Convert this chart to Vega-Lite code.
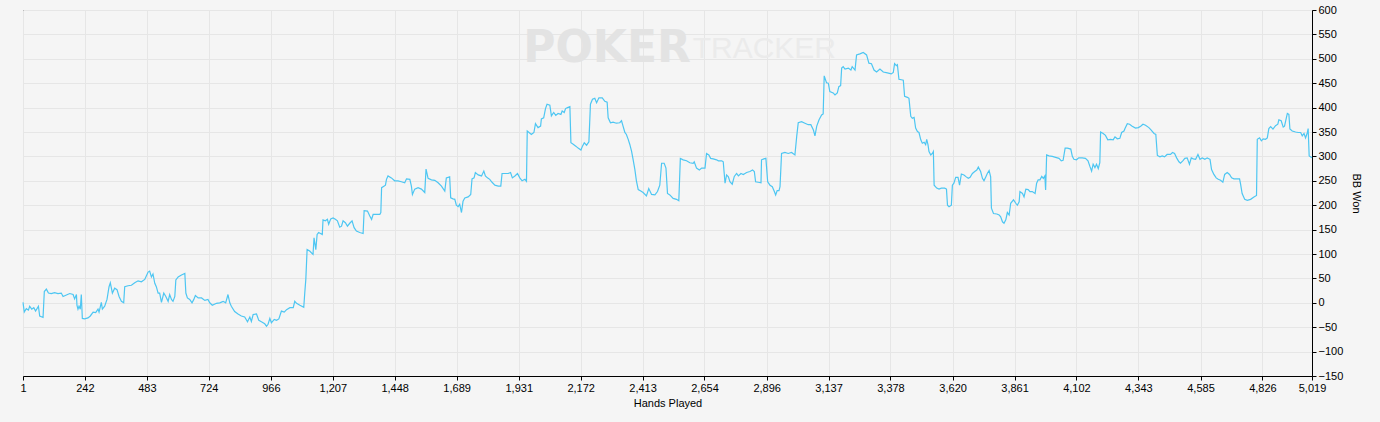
{
  "$schema": "https://vega.github.io/schema/vega-lite/v6.json",
  "width": 1289,
  "height": 366,
  "autosize": {"type": "none"},
  "padding": {"left": 23, "top": 10, "right": 68, "bottom": 46},
  "background": "#f5f5f5",
  "config": {
    "view": {"stroke": "#000000", "strokeWidth": 1, "fill": "#f5f5f5"},
    "font": "Liberation Sans"
  },
  "datasets": {
    "wm": [
      {"label": "POKER", "hand": 2601, "bb": 520},
      {"label": "TRACKER", "hand": 2608, "bb": 520}
    ],
    "series": [
      {"hand":1,"bb":1},{"hand":6,"bb":-19},{"hand":14,"bb":-12},{"hand":22,"bb":-15},{"hand":27,"bb":-7},{"hand":35,"bb":-13},{"hand":43,"bb":-10},{"hand":50,"bb":-17},{"hand":61,"bb":-7},{"hand":66,"bb":-27},{"hand":79,"bb":-30},{"hand":84,"bb":23},{"hand":92,"bb":28},{"hand":100,"bb":20},{"hand":111,"bb":19},{"hand":124,"bb":21},{"hand":137,"bb":19},{"hand":150,"bb":20},{"hand":157,"bb":13},{"hand":170,"bb":16},{"hand":183,"bb":19},{"hand":196,"bb":17},{"hand":202,"bb":8},{"hand":209,"bb":17},{"hand":211,"bb":-5},{"hand":215,"bb":-13},{"hand":219,"bb":-7},{"hand":224,"bb":-13},{"hand":228,"bb":17},{"hand":232,"bb":-32},{"hand":241,"bb":-33},{"hand":254,"bb":-31},{"hand":263,"bb":-27},{"hand":274,"bb":-19},{"hand":284,"bb":-20},{"hand":293,"bb":-13},{"hand":297,"bb":-19},{"hand":306,"bb":1},{"hand":310,"bb":-13},{"hand":319,"bb":-7},{"hand":328,"bb":7},{"hand":336,"bb":33},{"hand":341,"bb":41},{"hand":349,"bb":20},{"hand":358,"bb":30},{"hand":367,"bb":27},{"hand":375,"bb":13},{"hand":384,"bb":3},{"hand":393,"bb":0},{"hand":397,"bb":33},{"hand":410,"bb":35},{"hand":423,"bb":36},{"hand":436,"bb":41},{"hand":449,"bb":45},{"hand":462,"bb":43},{"hand":475,"bb":48},{"hand":481,"bb":55},{"hand":488,"bb":63},{"hand":494,"bb":65},{"hand":501,"bb":53},{"hand":507,"bb":59},{"hand":514,"bb":40},{"hand":520,"bb":33},{"hand":527,"bb":20},{"hand":533,"bb":20},{"hand":540,"bb":1},{"hand":549,"bb":20},{"hand":557,"bb":13},{"hand":566,"bb":3},{"hand":572,"bb":17},{"hand":579,"bb":7},{"hand":585,"bb":3},{"hand":592,"bb":13},{"hand":596,"bb":47},{"hand":605,"bb":53},{"hand":618,"bb":57},{"hand":631,"bb":60},{"hand":635,"bb":20},{"hand":641,"bb":10},{"hand":650,"bb":7},{"hand":659,"bb":0},{"hand":666,"bb":7},{"hand":672,"bb":15},{"hand":683,"bb":10},{"hand":696,"bb":10},{"hand":709,"bb":5},{"hand":721,"bb":7},{"hand":728,"bb":0},{"hand":738,"bb":-5},{"hand":754,"bb":-1},{"hand":767,"bb":0},{"hand":780,"bb":3},{"hand":790,"bb":0},{"hand":799,"bb":17},{"hand":806,"bb":0},{"hand":812,"bb":-7},
      {"hand":825,"bb":-18},{"hand":838,"bb":-23},{"hand":851,"bb":-27},{"hand":864,"bb":-29},{"hand":875,"bb":-39},{"hand":884,"bb":-29},{"hand":890,"bb":-38},{"hand":897,"bb":-24},{"hand":910,"bb":-23},{"hand":919,"bb":-36},{"hand":929,"bb":-39},{"hand":942,"bb":-43},{"hand":949,"bb":-48},{"hand":955,"bb":-44},{"hand":962,"bb":-32},{"hand":968,"bb":-41},{"hand":979,"bb":-34},{"hand":988,"bb":-36},{"hand":997,"bb":-33},{"hand":1007,"bb":-17},{"hand":1018,"bb":-19},{"hand":1027,"bb":-14},{"hand":1040,"bb":-10},{"hand":1053,"bb":-10},{"hand":1059,"bb":3},{"hand":1066,"bb":-1},{"hand":1079,"bb":-5},{"hand":1094,"bb":-9},{"hand":1098,"bb":21},{"hand":1102,"bb":48},{"hand":1107,"bb":109},{"hand":1117,"bb":106},{"hand":1130,"bb":99},{"hand":1134,"bb":133},{"hand":1141,"bb":109},{"hand":1146,"bb":140},{"hand":1152,"bb":144},{"hand":1166,"bb":140},{"hand":1169,"bb":170},{"hand":1178,"bb":168},{"hand":1186,"bb":171},{"hand":1191,"bb":161},{"hand":1199,"bb":172},{"hand":1208,"bb":174},{"hand":1217,"bb":171},{"hand":1225,"bb":168},{"hand":1234,"bb":155},{"hand":1241,"bb":157},{"hand":1247,"bb":168},{"hand":1256,"bb":164},{"hand":1264,"bb":157},{"hand":1273,"bb":163},{"hand":1282,"bb":168},{"hand":1290,"bb":154},{"hand":1299,"bb":147},{"hand":1312,"bb":144},{"hand":1325,"bb":142},{"hand":1329,"bb":189},{"hand":1342,"bb":188},{"hand":1351,"bb":178},{"hand":1358,"bb":171},{"hand":1364,"bb":181},{"hand":1377,"bb":181},{"hand":1390,"bb":181},{"hand":1394,"bb":185},{"hand":1397,"bb":236},{"hand":1406,"bb":239},{"hand":1412,"bb":241},{"hand":1416,"bb":253},{"hand":1422,"bb":260},{"hand":1435,"bb":256},{"hand":1448,"bb":250},{"hand":1461,"bb":250},{"hand":1474,"bb":248},{"hand":1487,"bb":246},{"hand":1494,"bb":254},{"hand":1507,"bb":253},{"hand":1513,"bb":239},{"hand":1517,"bb":222},{"hand":1526,"bb":233},{"hand":1539,"bb":236},{"hand":1552,"bb":233},{"hand":1565,"bb":226},{"hand":1570,"bb":274},{"hand":1578,"bb":255},{"hand":1591,"bb":252},{"hand":1604,"bb":251},{"hand":1617,"bb":246},{"hand":1630,"bb":239},
      {"hand":1643,"bb":229},{"hand":1649,"bb":256},{"hand":1662,"bb":258},{"hand":1666,"bb":215},{"hand":1675,"bb":213},{"hand":1682,"bb":212},{"hand":1688,"bb":200},{"hand":1695,"bb":197},{"hand":1701,"bb":202},{"hand":1708,"bb":185},{"hand":1714,"bb":208},{"hand":1721,"bb":215},{"hand":1734,"bb":217},{"hand":1744,"bb":222},{"hand":1749,"bb":254},{"hand":1757,"bb":256},{"hand":1762,"bb":267},{"hand":1773,"bb":262},{"hand":1786,"bb":260},{"hand":1795,"bb":270},{"hand":1801,"bb":260},{"hand":1809,"bb":256},{"hand":1818,"bb":253},{"hand":1827,"bb":247},{"hand":1838,"bb":241},{"hand":1851,"bb":239},{"hand":1861,"bb":239},{"hand":1866,"bb":265},{"hand":1877,"bb":265},{"hand":1890,"bb":265},{"hand":1899,"bb":267},{"hand":1906,"bb":256},{"hand":1916,"bb":260},{"hand":1926,"bb":265},{"hand":1935,"bb":256},{"hand":1944,"bb":250},{"hand":1955,"bb":253},{"hand":1961,"bb":249},{"hand":1964,"bb":352},{"hand":1971,"bb":349},{"hand":1980,"bb":345},{"hand":1990,"bb":349},{"hand":1996,"bb":367},{"hand":2006,"bb":359},{"hand":2016,"bb":362},{"hand":2019,"bb":377},{"hand":2028,"bb":379},{"hand":2035,"bb":398},{"hand":2041,"bb":407},{"hand":2052,"bb":405},{"hand":2058,"bb":383},{"hand":2067,"bb":390},{"hand":2075,"bb":384},{"hand":2084,"bb":388},{"hand":2095,"bb":386},{"hand":2100,"bb":393},{"hand":2108,"bb":390},{"hand":2113,"bb":398},{"hand":2121,"bb":400},{"hand":2130,"bb":402},{"hand":2134,"bb":328},{"hand":2143,"bb":325},{"hand":2153,"bb":321},{"hand":2162,"bb":317},{"hand":2173,"bb":313},{"hand":2179,"bb":321},{"hand":2186,"bb":328},{"hand":2195,"bb":323},{"hand":2204,"bb":330},{"hand":2210,"bb":407},{"hand":2218,"bb":417},{"hand":2227,"bb":419},{"hand":2234,"bb":410},{"hand":2243,"bb":420},{"hand":2256,"bb":420},{"hand":2266,"bb":413},{"hand":2275,"bb":411},{"hand":2279,"bb":379},{"hand":2288,"bb":369},{"hand":2298,"bb":370},{"hand":2311,"bb":368},{"hand":2324,"bb":369},{"hand":2331,"bb":373},{"hand":2337,"bb":362},{"hand":2344,"bb":349},{"hand":2350,"bb":345},{"hand":2357,"bb":335},{"hand":2363,"bb":325},{"hand":2370,"bb":311},{"hand":2376,"bb":294},{"hand":2383,"bb":273},{"hand":2389,"bb":250},{"hand":2396,"bb":232},{"hand":2406,"bb":229},{"hand":2415,"bb":226},{"hand":2428,"bb":219},{"hand":2437,"bb":234},{"hand":2448,"bb":222},
      {"hand":2461,"bb":221},{"hand":2471,"bb":228},{"hand":2480,"bb":241},{"hand":2487,"bb":286},{"hand":2497,"bb":286},{"hand":2504,"bb":276},{"hand":2510,"bb":224},{"hand":2519,"bb":221},{"hand":2532,"bb":214},{"hand":2545,"bb":212},{"hand":2554,"bb":209},{"hand":2560,"bb":296},{"hand":2571,"bb":293},{"hand":2584,"bb":291},{"hand":2597,"bb":287},{"hand":2610,"bb":286},{"hand":2614,"bb":289},{"hand":2623,"bb":276},{"hand":2634,"bb":272},{"hand":2643,"bb":276},{"hand":2656,"bb":276},{"hand":2662,"bb":306},{"hand":2671,"bb":303},{"hand":2678,"bb":296},{"hand":2688,"bb":295},{"hand":2701,"bb":293},{"hand":2708,"bb":291},{"hand":2721,"bb":291},{"hand":2727,"bb":289},{"hand":2734,"bb":245},{"hand":2740,"bb":262},{"hand":2747,"bb":258},{"hand":2753,"bb":248},{"hand":2762,"bb":243},{"hand":2770,"bb":259},{"hand":2779,"bb":265},{"hand":2786,"bb":260},{"hand":2796,"bb":265},{"hand":2805,"bb":263},{"hand":2818,"bb":267},{"hand":2831,"bb":269},{"hand":2841,"bb":272},{"hand":2848,"bb":269},{"hand":2853,"bb":248},{"hand":2863,"bb":247},{"hand":2874,"bb":246},{"hand":2876,"bb":293},{"hand":2885,"bb":295},{"hand":2893,"bb":296},{"hand":2900,"bb":248},{"hand":2909,"bb":241},{"hand":2918,"bb":238},{"hand":2926,"bb":228},{"hand":2931,"bb":221},{"hand":2937,"bb":230},{"hand":2944,"bb":230},{"hand":2948,"bb":238},{"hand":2954,"bb":306},{"hand":2967,"bb":308},{"hand":2980,"bb":306},{"hand":2993,"bb":308},{"hand":3006,"bb":303},{"hand":3013,"bb":341},{"hand":3019,"bb":369},{"hand":3032,"bb":371},{"hand":3045,"bb":368},{"hand":3058,"bb":365},{"hand":3068,"bb":365},{"hand":3078,"bb":354},{"hand":3084,"bb":342},{"hand":3091,"bb":362},{"hand":3100,"bb":375},{"hand":3110,"bb":385},{"hand":3116,"bb":387},{"hand":3120,"bb":465},{"hand":3129,"bb":451},{"hand":3136,"bb":450},{"hand":3142,"bb":433},{"hand":3155,"bb":430},{"hand":3162,"bb":426},{"hand":3171,"bb":430},{"hand":3177,"bb":443},{"hand":3184,"bb":445},{"hand":3188,"bb":481},{"hand":3194,"bb":484},{"hand":3201,"bb":479},{"hand":3214,"bb":481},{"hand":3224,"bb":477},{"hand":3229,"bb":484},{"hand":3240,"bb":477},{"hand":3246,"bb":508},{"hand":3259,"bb":510},{"hand":3272,"bb":513},
      {"hand":3285,"bb":508},{"hand":3294,"bb":491},{"hand":3304,"bb":490},{"hand":3314,"bb":477},{"hand":3324,"bb":473},{"hand":3337,"bb":479},{"hand":3350,"bb":473},{"hand":3366,"bb":471},{"hand":3381,"bb":469},{"hand":3389,"bb":472},{"hand":3394,"bb":490},{"hand":3401,"bb":486},{"hand":3405,"bb":488},{"hand":3411,"bb":458},{"hand":3420,"bb":457},{"hand":3428,"bb":456},{"hand":3433,"bb":423},{"hand":3444,"bb":421},{"hand":3450,"bb":419},{"hand":3457,"bb":382},{"hand":3463,"bb":378},{"hand":3470,"bb":380},{"hand":3476,"bb":358},{"hand":3483,"bb":351},{"hand":3489,"bb":349},{"hand":3496,"bb":334},{"hand":3502,"bb":327},{"hand":3509,"bb":329},{"hand":3515,"bb":324},{"hand":3519,"bb":335},{"hand":3524,"bb":324},{"hand":3528,"bb":310},{"hand":3535,"bb":303},{"hand":3541,"bb":306},{"hand":3545,"bb":310},{"hand":3548,"bb":241},{"hand":3558,"bb":235},{"hand":3567,"bb":233},{"hand":3576,"bb":235},{"hand":3589,"bb":235},{"hand":3596,"bb":233},{"hand":3600,"bb":200},{"hand":3606,"bb":197},{"hand":3615,"bb":200},{"hand":3619,"bb":241},{"hand":3625,"bb":245},{"hand":3632,"bb":257},{"hand":3641,"bb":257},{"hand":3647,"bb":241},{"hand":3654,"bb":264},{"hand":3664,"bb":262},{"hand":3673,"bb":258},{"hand":3681,"bb":255},{"hand":3688,"bb":257},{"hand":3697,"bb":265},{"hand":3706,"bb":269},{"hand":3714,"bb":272},{"hand":3720,"bb":278},{"hand":3729,"bb":269},{"hand":3736,"bb":255},{"hand":3742,"bb":250},{"hand":3749,"bb":258},{"hand":3755,"bb":265},{"hand":3762,"bb":271},{"hand":3768,"bb":258},{"hand":3771,"bb":194},{"hand":3779,"bb":183},{"hand":3792,"bb":182},{"hand":3801,"bb":180},{"hand":3807,"bb":176},{"hand":3814,"bb":166},{"hand":3820,"bb":163},{"hand":3827,"bb":170},{"hand":3833,"bb":185},{"hand":3840,"bb":180},{"hand":3846,"bb":204},{"hand":3857,"bb":211},{"hand":3866,"bb":204},{"hand":3872,"bb":200},{"hand":3879,"bb":207},{"hand":3882,"bb":228},{"hand":3892,"bb":224},{"hand":3898,"bb":217},{"hand":3905,"bb":233},{"hand":3914,"bb":232},{"hand":3921,"bb":228},{"hand":3930,"bb":228},{"hand":3941,"bb":224},{"hand":3947,"bb":245},{"hand":3953,"bb":252},{"hand":3960,"bb":252},{"hand":3967,"bb":259},{"hand":3973,"bb":255},{"hand":3979,"bb":260},{"hand":3982,"bb":231},{"hand":3986,"bb":303},{"hand":3995,"bb":301},{"hand":4008,"bb":300},{"hand":4021,"bb":298},{"hand":4034,"bb":296},{"hand":4043,"bb":291},{"hand":4050,"bb":292},{"hand":4058,"bb":317},{"hand":4067,"bb":317},{"hand":4080,"bb":315},{"hand":4086,"bb":300},
      {"hand":4092,"bb":294},{"hand":4102,"bb":293},{"hand":4111,"bb":297},{"hand":4124,"bb":297},{"hand":4137,"bb":296},{"hand":4147,"bb":291},{"hand":4154,"bb":280},{"hand":4161,"bb":270},{"hand":4167,"bb":284},{"hand":4174,"bb":277},{"hand":4180,"bb":284},{"hand":4187,"bb":275},{"hand":4193,"bb":287},{"hand":4196,"bb":350},{"hand":4206,"bb":347},{"hand":4215,"bb":343},{"hand":4224,"bb":334},{"hand":4235,"bb":335},{"hand":4245,"bb":334},{"hand":4252,"bb":340},{"hand":4261,"bb":336},{"hand":4271,"bb":337},{"hand":4278,"bb":349},{"hand":4287,"bb":352},{"hand":4291,"bb":357},{"hand":4300,"bb":367},{"hand":4309,"bb":366},{"hand":4319,"bb":362},{"hand":4332,"bb":358},{"hand":4343,"bb":359},{"hand":4352,"bb":362},{"hand":4361,"bb":366},{"hand":4371,"bb":364},{"hand":4384,"bb":359},{"hand":4393,"bb":354},{"hand":4404,"bb":347},{"hand":4411,"bb":345},{"hand":4417,"bb":302},{"hand":4427,"bb":299},{"hand":4436,"bb":301},{"hand":4445,"bb":299},{"hand":4455,"bb":304},{"hand":4468,"bb":304},{"hand":4476,"bb":308},{"hand":4484,"bb":306},{"hand":4492,"bb":297},{"hand":4501,"bb":289},{"hand":4507,"bb":286},{"hand":4516,"bb":291},{"hand":4524,"bb":296},{"hand":4533,"bb":297},{"hand":4542,"bb":284},{"hand":4549,"bb":297},{"hand":4557,"bb":295},{"hand":4566,"bb":294},{"hand":4575,"bb":304},{"hand":4583,"bb":294},{"hand":4592,"bb":297},{"hand":4602,"bb":294},{"hand":4611,"bb":297},{"hand":4622,"bb":294},{"hand":4628,"bb":273},{"hand":4637,"bb":263},{"hand":4646,"bb":256},{"hand":4654,"bb":253},{"hand":4663,"bb":251},{"hand":4672,"bb":247},{"hand":4679,"bb":263},{"hand":4689,"bb":267},{"hand":4698,"bb":263},{"hand":4706,"bb":256},{"hand":4715,"bb":254},{"hand":4728,"bb":254},{"hand":4737,"bb":254},{"hand":4741,"bb":243},{"hand":4747,"bb":224},{"hand":4757,"bb":212},{"hand":4767,"bb":210},{"hand":4780,"bb":212},{"hand":4793,"bb":217},{"hand":4803,"bb":220},{"hand":4806,"bb":335},{"hand":4815,"bb":338},{"hand":4822,"bb":332},{"hand":4829,"bb":336},{"hand":4838,"bb":335},{"hand":4845,"bb":338},{"hand":4851,"bb":357},{"hand":4858,"bb":361},{"hand":4867,"bb":356},{"hand":4877,"bb":363},{"hand":4886,"bb":366},{"hand":4890,"bb":375},{"hand":4899,"bb":373},{"hand":4907,"bb":360},{"hand":4912,"bb":362},{"hand":4923,"bb":388},{"hand":4929,"bb":386},{"hand":4933,"bb":356},{"hand":4942,"bb":352},{"hand":4955,"bb":350},{"hand":4965,"bb":349},{"hand":4975,"bb":349},{"hand":4981,"bb":342},{"hand":4988,"bb":347},{"hand":4994,"bb":338},{"hand":5001,"bb":349},{"hand":5004,"bb":357},{"hand":5008,"bb":301},{"hand":5019,"bb":297}
    ]
  },
  "layer": [
    {
      "data": {"name": "wm"},
      "transform": [{"filter": "datum.label == 'POKER'"}],
      "mark": {"type": "text", "align": "right", "baseline": "middle", "font": "DejaVu Sans", "fontWeight": "bold", "fontSize": 44, "color": "#e3e3e3"},
      "encoding": {
        "x": {"field": "hand", "type": "quantitative"},
        "y": {"field": "bb", "type": "quantitative"},
        "text": {"field": "label"}
      }
    },
    {
      "data": {"name": "wm"},
      "transform": [{"filter": "datum.label == 'TRACKER'"}],
      "mark": {"type": "text", "align": "left", "baseline": "middle", "font": "Liberation Sans", "fontSize": 30, "color": "#ebebeb"},
      "encoding": {
        "x": {"field": "hand", "type": "quantitative"},
        "y": {"field": "bb", "type": "quantitative"},
        "text": {"field": "label"}
      }
    },
    {
      "mark": {"type": "rule", "color": "#000000", "strokeWidth": 1},
      "encoding": {"y": {"datum": 0, "type": "quantitative"}}
    },
    {
      "data": {"name": "series"},
      "mark": {"type": "line", "color": "#4dc6f2", "strokeWidth": 1.2, "interpolate": "linear"},
      "encoding": {
        "x": {
          "field": "hand",
          "type": "quantitative",
          "scale": {"domain": [1, 5019], "nice": false, "zero": false},
          "axis": {
            "title": "Hands Played",
            "values": [1, 242, 483, 724, 966, 1207, 1448, 1689, 1931, 2172, 2413, 2654, 2896, 3137, 3378, 3620, 3861, 4102, 4343, 4585, 4826, 5019],
            "tickCount": 40,
            "format": ",d",
            "grid": true,
            "gridColor": "#e6e6e6",
            "gridWidth": 1,
            "domainColor": "#000000",
            "tickColor": "#000000",
            "tickSize": 4,
            "labelColor": "#000000",
            "labelFontSize": 11,
            "labelFont": "Liberation Sans",
            "labelPadding": 2,
            "labelFlush": false,
            "labelOverlap": false,
            "titleFont": "Liberation Sans",
            "titleFontSize": 11,
            "titleFontWeight": "normal",
            "titleColor": "#000000",
            "titlePadding": 4
          }
        },
        "y": {
          "field": "bb",
          "type": "quantitative",
          "scale": {"domain": [-150, 600], "nice": false, "zero": false},
          "axis": {
            "orient": "right",
            "title": "BB Won",
            "values": [-150, -100, -50, 0, 50, 100, 150, 200, 250, 300, 350, 400, 450, 500, 550, 600],
            "tickCount": 30,
            "format": "d",
            "grid": true,
            "gridColor": "#e6e6e6",
            "gridWidth": 1,
            "domainColor": "#000000",
            "tickColor": "#000000",
            "tickSize": 4,
            "labelColor": "#000000",
            "labelFontSize": 11,
            "labelFont": "Liberation Sans",
            "labelPadding": 2,
            "labelFlush": false,
            "labelOverlap": false,
            "titleFont": "Liberation Sans",
            "titleFontSize": 11,
            "titleFontWeight": "normal",
            "titleColor": "#000000",
            "titlePadding": 8
          }
        }
      }
    }
  ]
}
